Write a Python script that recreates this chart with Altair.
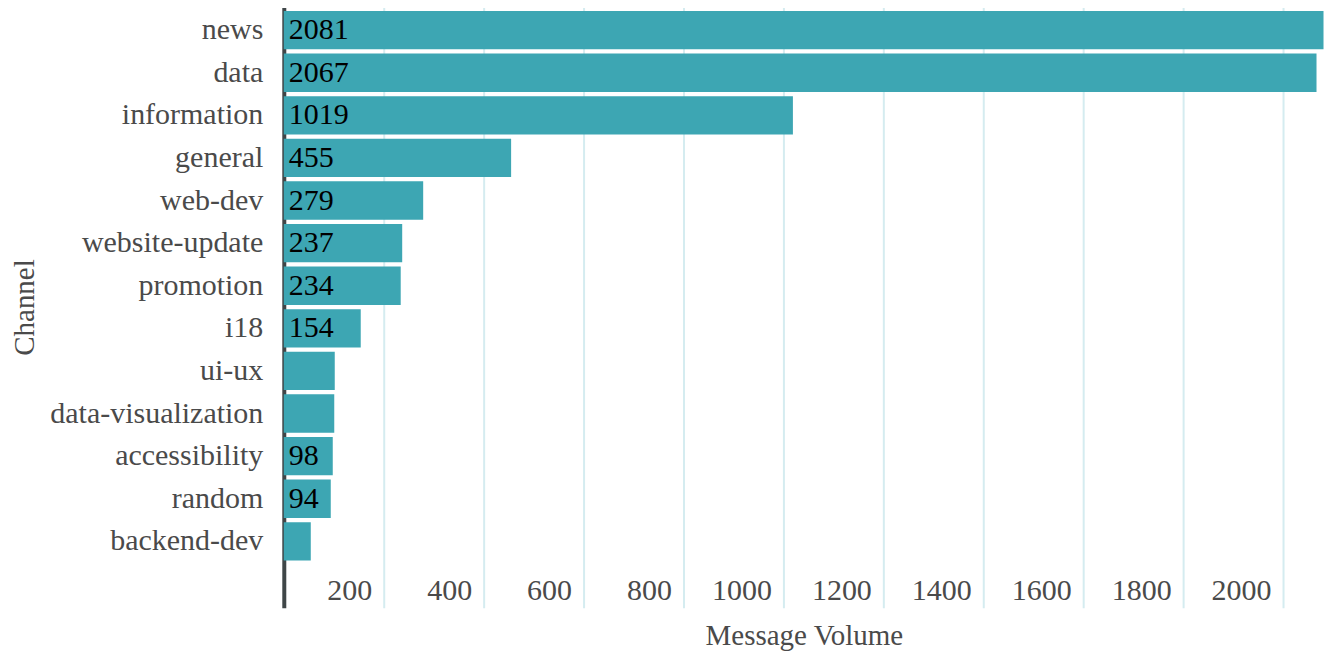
import altair as alt
import pandas as pd

channels = ["news", "data", "information", "general", "web-dev", "website-update",
            "promotion", "i18", "ui-ux", "data-visualization", "accessibility",
            "random", "backend-dev"]
volumes = [2081, 2067, 1019, 455, 279, 237, 234, 154, 102, 101, 98, 94, 54]
show_label = [True, True, True, True, True, True, True, True, False, False, True, True, False]
x_ticks = [200, 400, 600, 800, 1000, 1200, 1400, 1600, 1800, 2000]

df = pd.DataFrame({
    "channel": channels,
    "volume": volumes,
    "label": [str(v) if s else "" for v, s in zip(volumes, show_label)],
})

FONT = "'Liberation Serif', 'Times New Roman', Times, 'DejaVu Serif', serif"
GRAY = "#4a4a4a"
BAR = "#3da6b3"
y_domain = channels + [" "]

y_enc = alt.Y(
    "channel:N",
    scale=alt.Scale(domain=y_domain, paddingInner=0.1, paddingOuter=0.11),
    axis=alt.Axis(
        title="Channel", grid=False, ticks=False, labelPadding=21, labelLimit=400,
        labelFont=FONT, labelFontSize=30, labelColor=GRAY,
        domainColor="#3f4648", domainWidth=4,
        titleFont=FONT, titleFontSize=29, titleFontWeight="normal", titleColor=GRAY,
        titlePadding=44,
    ),
)

x_enc = alt.X(
    "volume:Q",
    scale=alt.Scale(domain=[0, 2082], nice=False, zero=True),
    axis=alt.Axis(
        values=x_ticks, format="d", title="Message Volume", grid=True,
        gridColor="#d5ecf0", gridWidth=2,
        domain=False, ticks=False, tickSize=0,
        labelAlign="right", labelOffset=-12, labelBaseline="alphabetic", labelPadding=-8,
        labelFont=FONT, labelFontSize=30, labelColor=GRAY,
        titleFont=FONT, titleFontSize=29, titleFontWeight="normal", titleColor=GRAY,
        titleY=37, titleBaseline="alphabetic",
    ),
)

bars = alt.Chart(df).mark_bar(color=BAR).encode(x=x_enc, y=y_enc)

text = alt.Chart(df).mark_text(
    align="left", baseline="middle", dx=5, font=FONT, fontSize=30, color="black"
).encode(x=alt.value(0), y=alt.Y("channel:N"), text="label:N")

chart = (bars + text).properties(
    width=1041, height=602,
    autosize=alt.AutoSizeParams(type="none"),
    padding={"left": 276, "top": -2, "right": 10, "bottom": 50},
).configure_view(stroke=None)

chart.save("out.html", embed_options={"renderer": "svg", "actions": False})
